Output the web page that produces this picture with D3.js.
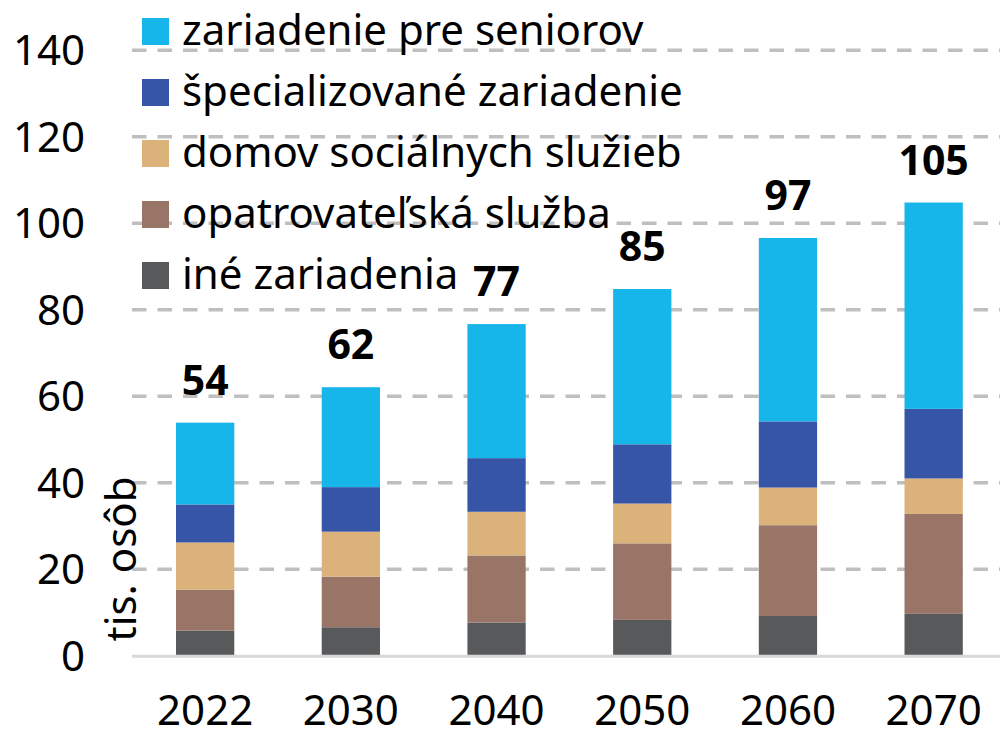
<!DOCTYPE html>
<html>
<head>
<meta charset="utf-8">
<script src="https://cdn.jsdelivr.net/npm/d3@7"></script>
<style>
  body { margin: 0; background: #fff; }
  svg text { font-family: "Noto Sans", "Open Sans", sans-serif; fill: #000; }
</style>
</head>
<body>
<div id="chart"></div>
<script>
var years = ["2022", "2030", "2040", "2050", "2060", "2070"];

// tis. osôb, per year
var ineZariadenia = [5.8, 6.6, 7.7, 8.3, 9.2, 9.7];
var opatrovatelska = [9.5, 11.7, 15.5, 17.7, 21.0, 23.1];
var domovSocialnych = [10.9, 10.4, 10.1, 9.2, 8.7, 8.2];
var specializovane = [8.8, 10.3, 12.4, 13.7, 15.3, 16.1];
var seniori = [18.9, 23.1, 31.0, 35.9, 42.4, 47.7];

var seriesNames = ["iné zariadenia", "opatrovateľská služba", "domov sociálnych služieb",
  "špecializované zariadenie", "zariadenie pre seniorov"];
var seriesColors = ["#58595b", "#997568", "#dbb27a", "#3755a6", "#16b5ea"];
var yTicks = [0, 20, 40, 60, 80, 100, 120, 140];

var seriesValues = [ineZariadenia, opatrovatelska, domovSocialnych, specializovane, seniori];

var width = 1000,
    height = 736;

var rows = years.map(function(yr, i) {
  var r = { year: yr };
  seriesNames.forEach(function(name, s) { r[name] = seriesValues[s][i]; });
  return r;
});

var stacked = d3.stack().keys(seriesNames)(rows);

var x = d3.scaleBand().domain(years).range([132.3, 1006.5]).paddingInner(0.6).paddingOuter(0.3),
    y = d3.scaleLinear().domain([0, 140]).range([655.8, 50.3]);

var svg = d3.select("#chart").append("svg")
    .attr("width", width)
    .attr("height", height);

// gridlines
svg.append("g").selectAll("line")
    .data(yTicks.filter(function(d) { return d > 0; }))
    .enter().append("line")
      .attr("x1", 132)
      .attr("x2", width)
      .attr("y1", function(d) { return y(d); })
      .attr("y2", function(d) { return y(d); })
      .attr("stroke", "#bfbfbf")
      .attr("stroke-width", 3.5)
      .attr("stroke-dasharray", "14.5,11");

// y tick labels
svg.append("g").selectAll("text")
    .data(yTicks)
    .enter().append("text")
      .attr("x", 85)
      .attr("y", function(d) { return y(d); })
      .attr("dy", "0.357em")
      .attr("text-anchor", "end")
      .style("font-size", "42px")
      .text(function(d) { return d; });

// bars
svg.append("g").selectAll("g")
    .data(stacked)
    .enter().append("g")
      .attr("fill", function(d, i) { return seriesColors[i]; })
    .selectAll("rect")
    .data(function(d) { return d; })
    .enter().append("rect")
      .attr("x", function(d) { return x(d.data.year); })
      .attr("y", function(d) { return y(d[1]); })
      .attr("width", x.bandwidth())
      .attr("height", function(d) { return y(d[0]) - y(d[1]); });

// baseline
svg.append("line")
    .attr("x1", 132)
    .attr("x2", width)
    .attr("y1", y(0) + 0.5)
    .attr("y2", y(0) + 0.5)
    .attr("stroke", "#d9d9d9")
    .attr("stroke-width", 3);

// totals above each bar
var topLayer = stacked[stacked.length - 1];
svg.append("g").selectAll("text")
    .data(topLayer)
    .enter().append("text")
      .attr("x", function(d) { return x(d.data.year) + x.bandwidth() / 2; })
      .attr("y", function(d) { return y(d[1]) - 28; })
      .attr("text-anchor", "middle")
      .style("font-size", "41px")
      .style("font-weight", "bold")
      .text(function(d) { return Math.round(d[1]); });

// x labels
svg.append("g").selectAll("text")
    .data(years)
    .enter().append("text")
      .attr("x", function(d) { return x(d) + x.bandwidth() / 2; })
      .attr("y", 725)
      .attr("text-anchor", "middle")
      .style("font-size", "42px")
      .text(function(d) { return d; });

// y axis title
svg.append("text")
    .attr("transform", "translate(136,559) rotate(-90)")
    .attr("text-anchor", "middle")
    .style("font-size", "42px")
    .text("tis. osôb");

// legend, top entry = top of stack
var legend = svg.append("g").selectAll("g")
    .data(seriesNames.slice().reverse())
    .enter().append("g")
      .attr("transform", function(d, i) { return "translate(142," + (18 + i * 61) + ")"; });

legend.append("rect")
    .attr("width", 27)
    .attr("height", 27)
    .attr("fill", function(d) { return seriesColors[seriesNames.indexOf(d)]; });

legend.append("text")
    .attr("x", 40)
    .attr("y", 27)
    .style("font-size", "42px")
    .text(function(d) { return d; });
</script>
</body>
</html>
